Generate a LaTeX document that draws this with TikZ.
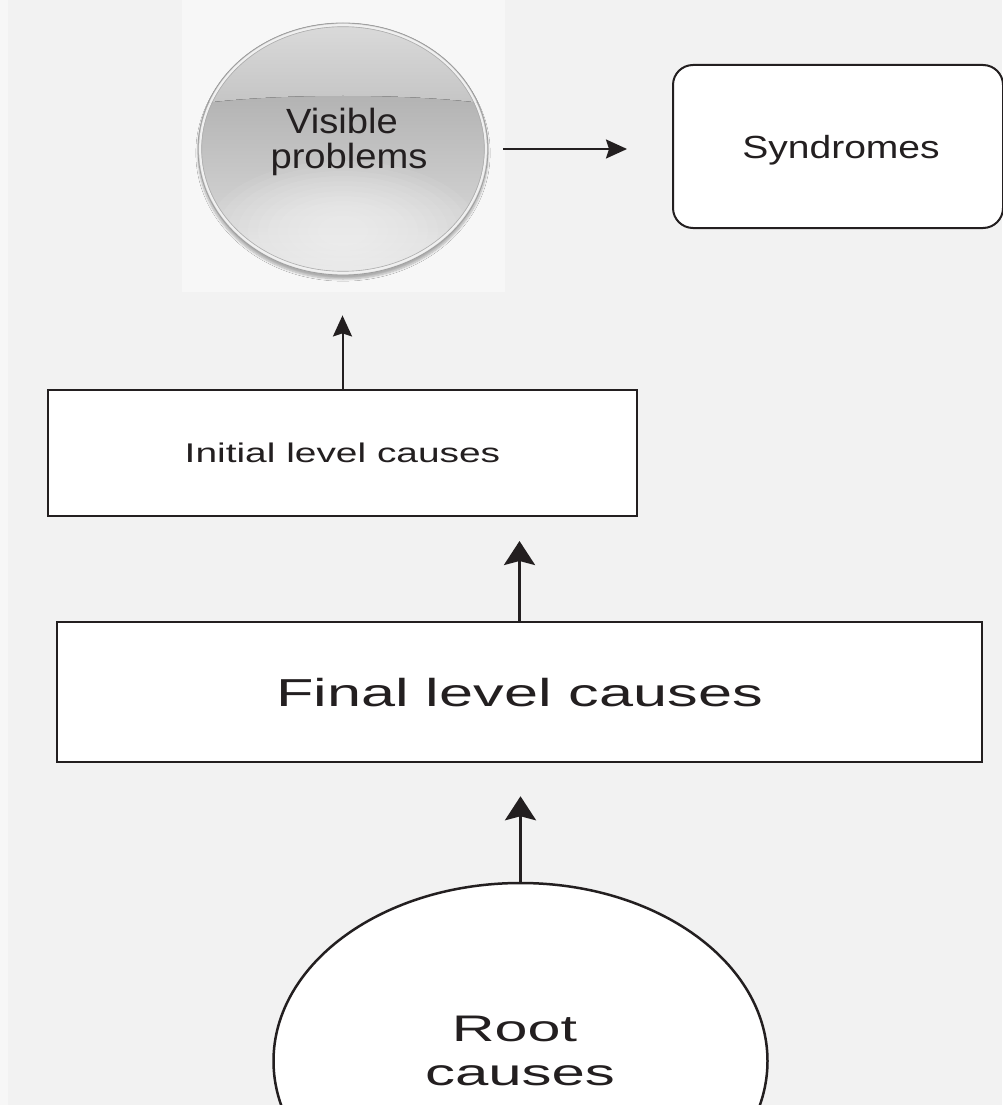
\documentclass[tikz,border=0pt]{standalone}
\usepackage{fontspec}
\setmainfont{Liberation Sans}
\usetikzlibrary{arrows.meta,shapes.geometric,shadows.blur}
\definecolor{bg}{HTML}{F2F2F2}
\definecolor{bgl}{HTML}{F7F7F7}
\definecolor{ink}{HTML}{231F20}
\definecolor{vptop}{HTML}{A0A0A0}
\definecolor{vpbot}{HTML}{E2E2E2}
\definecolor{captop}{HTML}{DEDEDE}
\definecolor{capbot}{HTML}{C4C4C4}
\begin{document}
\begin{tikzpicture}[x=1pt,y=-1pt,
  box/.style={draw=ink, fill=white, rectangle, inner sep=0pt, text=ink, text depth=0pt},
  thinarr/.style={draw=ink, line width=2pt, -{Stealth[length=21pt,width=19pt,inset=3pt]}},
  thickarr/.style={draw=ink, line width=3pt, -{Stealth[length=24pt,width=31pt,inset=4pt]}},
  lbl/.style={anchor=base, inner sep=0pt, text=ink}
]
\useasboundingbox (0,0) rectangle (1002,1105);
\fill[bg] (0,0) rectangle (1002,1105);
\fill[bgl] (0,0) rectangle (8,1105);
\fill[bgl] (182,0) rectangle (505,292);

% visible problems globe (path picture coordinates are relative to the node centre)
\node[ellipse, minimum width=290pt, minimum height=252pt, inner sep=0pt,
  draw=gray!75, line width=0.8pt, top color=vptop, bottom color=vpbot,
  blur shadow={shadow blur steps=8, shadow xshift=0pt, shadow yshift=-4pt, shadow opacity=30},
  path picture={
    \foreach \i in {0,...,11} {
      \fill[white, opacity=0.07] (0,82) ellipse [x radius={135-\i*10}, y radius={70-\i*5}];
    }
    \fill[top color=captop, bottom color=capbot]
      (-165,-140) -- (165,-140) -- (165,-42) .. controls (85,-57) and (-85,-57) .. (-165,-42) -- cycle;
  }] (vp) at (343,149) {};
\draw[white!88!gray, line width=2.2pt] (vp.center) ellipse (142.8pt and 123.8pt);
\draw[gray!65, line width=0.6pt] (vp.center) ellipse (141.3pt and 122.3pt);
\node[lbl, font=\fontsize{35}{35}\selectfont] (vp1) at (342,133) {\scalebox{1.09}[1]{Visible}};
\node[lbl, font=\fontsize{35}{35}\selectfont] (vp2) at (349,168) {\scalebox{1.09}[1]{problems}};

% syndromes
\node[box, rounded corners=20pt, minimum width=330pt, minimum height=163pt, line width=2pt,
  font=\fontsize{32}{38}\selectfont, text height=23pt] (syn) at (838,146.5)
  {\hspace*{6pt}\scalebox{1.22}[1]{Syndromes}};

% initial level causes
\node[box, minimum width=589pt, minimum height=126pt, line width=2pt,
  font=\fontsize{27}{32}\selectfont, text height=19.4pt] (ini) at (342.5,453)
  {\scalebox{1.44}[1]{Initial level causes}};

% final level causes
\node[box, minimum width=925pt, minimum height=140pt, line width=2.5pt,
  font=\fontsize{39}{46}\selectfont, text height=28pt] (fin) at (519.5,692)
  {\scalebox{1.57}[1]{Final level causes}};

% root causes
\node[ellipse, draw=ink, fill=white, line width=2.5pt, minimum width=494pt,
  minimum height=356pt, inner sep=0pt] (root) at (520.5,1061) {};
\node[lbl, font=\fontsize{37}{44}\selectfont] (root1) at (514.5,1041) {\scalebox{1.6}[1]{Root}};
\node[lbl, font=\fontsize{37}{44}\selectfont] (root2) at (520,1085) {\scalebox{1.62}[1]{causes}};

% connectors
\draw[thinarr, shorten <=15pt, shorten >=45pt] (vp.east) -- (vp.east -| syn.west);
\draw[thinarr, shorten >=40pt] (ini.north) -- (ini.north |- vp.south);
\draw[thickarr, shorten >=24pt] (fin.north) -- (fin.north |- ini.south);
\draw[thickarr, shorten >=33pt] (root.north) -- (root.north |- fin.south);
\end{tikzpicture}
\end{document}
